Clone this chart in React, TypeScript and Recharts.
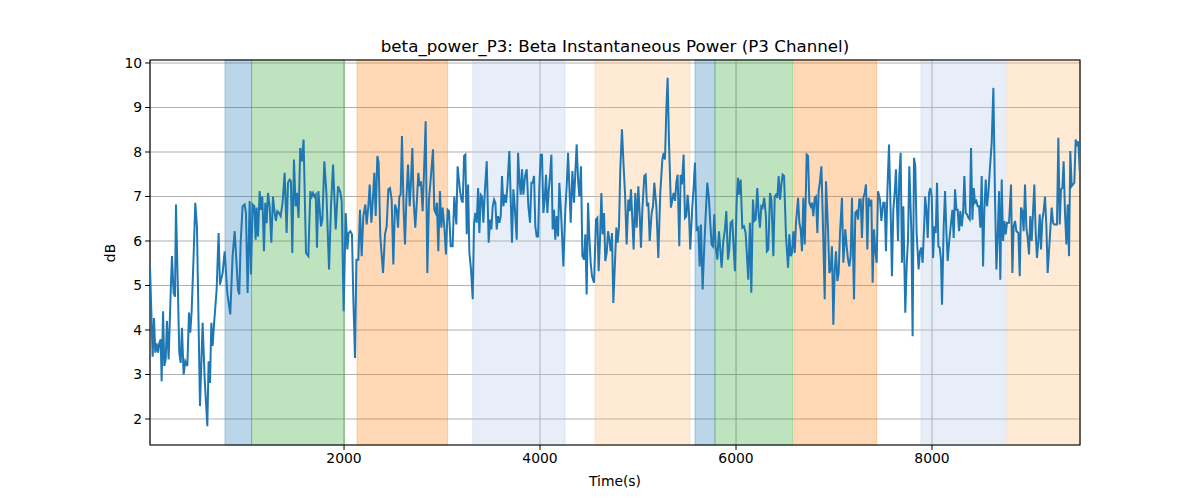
import { LineChart, Line, XAxis, YAxis, CartesianGrid, ReferenceArea } from "recharts";

// time (s) / power (dB), in six chunks
const times1 = [20,47,61,74,88,102,115,129,139,153,166,180,193,210,231,244,261,275,285,319,333,346,363,380,401,418,431,445,465,482,499,530,557,578,605,618,632,646,659,673,700,720,734,761,782,809,839,863,884,897,918,931,945,965,986,999,1016,1037,1050,1067,1084,1098,1108,1122,1139,1152,1166,1183,1196,1210,1224,1241,1258,1275,1288,1305,1319,1336,1353,1373,1394,1414,1428,1445,1458,1472,1489,1506,1519,1536,1553,1570,1587];
const power1 = [5.43,3.4,4.27,3.49,3.7,3.49,3.7,3.79,2.85,4.42,3.19,3.34,4.2,3.34,4.83,5.66,4.83,4.75,6.82,3.49,3.26,4.05,3.0,3.3,3.19,4.39,3.94,4.42,5.66,6.86,6.33,2.29,4.16,2.89,1.84,3.3,2.81,4.16,3.64,4.12,4.91,6.18,5.02,5.28,5.77,4.83,4.35,5.66,6.22,5.73,4.91,4.8,5.96,6.78,6.82,6.63,4.83,6.9,5.25,6.82,6.78,6.03,6.75,6.1,7.12,6.7,7.0,5.77,6.86,6.4,7.08,6.78,5.96,7.0,6.7,6.45,6.67,6.63,6.56,6.86,7.53,6.18,7.31,7.38,7.34,5.73,7.83,6.78,7.08,6.52,8.09,7.79,8.28];

const times2 = [1612,1636,1656,1670,1684,1697,1711,1724,1738,1752,1765,1779,1799,1820,1847,1867,1888,1915,1939,1962,1976,1996,2017,2034,2047,2064,2081,2095,2112,2126,2146,2163,2180,2197,2217,2231,2248,2262,2279,2296,2309,2323,2340,2353,2370,2398,2418,2435,2452,2469,2486,2503,2520,2537,2551,2564,2578,2591,2608,2622,2636,2653,2670,2683,2697,2710,2727,2744,2758,2772,2785,2802,2816,2833,2850,2867,2887,2908,2921,2935,2948,2962,2979,2993,3006,3023,3040,3057,3071,3088,3108,3125,3146,3159];
const power2 = [5.73,5.66,7.12,7.0,7.08,7.0,7.04,5.85,7.12,6.7,6.33,6.48,7.79,7.08,5.36,6.78,7.72,6.26,7.23,7.1,6.9,4.42,6.63,5.81,6.18,6.22,6.15,4.69,3.37,5.58,5.58,6.7,5.66,6.56,6.82,6.37,6.78,7.27,6.41,7.0,7.53,6.56,7.91,7.76,6.1,5.28,6.15,6.33,7.16,7.19,6.93,5.47,6.82,6.7,6.3,7.0,7.04,8.36,6.7,5.92,6.93,7.72,6.78,7.34,8.09,6.93,6.3,6.93,7.53,7.23,7.34,6.67,7.53,8.69,5.28,6.93,7.46,8.06,6.7,6.63,6.86,5.77,7.12,6.3,6.75,6.33,5.7,6.7,6.67,5.88,5.88,7.0,6.37,7.68];

const times3 = [3184,3198,3211,3225,3238,3252,3266,3279,3296,3313,3327,3340,3354,3368,3381,3395,3408,3422,3436,3456,3476,3490,3504,3517,3531,3544,3558,3572,3585,3599,3612,3626,3640,3653,3667,3687,3701,3714,3728,3742,3762,3776,3789,3803,3816,3830,3847,3864,3881,3898,3912,3925,3939,3952,3966,3980,3993,4007,4020,4034,4048,4061,4075,4088,4102,4116,4129,4143,4156,4170,4184,4197,4211,4224,4238,4258,4272,4286,4299,4313,4330,4347,4360,4374,4388,4401,4418,4432,4449,4462,4476,4490,4503,4517,4530,4551,4571,4585,4598,4612,4626,4639,4653,4666,4680,4694,4707,4721,4734,4748];
const power3 = [7.12,6.93,6.86,7.91,7.94,6.15,7.27,5.73,5.36,4.69,6.41,6.63,6.41,7.19,6.18,7.04,7.0,6.41,7.08,7.79,5.96,6.48,6.26,6.78,6.93,6.86,6.26,6.56,6.41,6.56,7.46,6.78,7.04,6.86,7.23,8.02,6.93,5.96,7.16,6.78,6.03,7.98,7.38,7.04,7.61,7.04,7.46,7.61,6.78,6.41,7.31,7.31,7.46,6.33,6.1,6.1,7.23,7.94,7.94,6.63,6.93,7.49,6.63,7.12,7.46,7.94,6.26,6.7,6.03,6.56,6.1,7.31,6.78,6.18,5.43,6.7,7.23,7.98,7.23,6.41,7.57,6.86,7.53,8.17,7.38,7.0,7.68,5.66,5.58,6.15,4.8,6.86,6.1,5.51,5.21,5.06,6.48,6.52,5.32,6.03,7.08,6.15,6.63,5.55,5.73,6.22,6.03,5.77,6.18,4.61];

const times4 = [4779,4792,4806,4819,4836,4853,4867,4884,4901,4915,4928,4942,4955,4972,4986,5003,5017,5030,5044,5064,5078,5091,5105,5119,5139,5153,5166,5187,5207,5227,5248,5261,5275,5289,5302,5316,5336,5350,5363,5377,5391,5404,5421,5435,5448,5465,5479,5493,5506,5520,5533,5554,5567,5581,5598,5615,5629,5642,5659,5676,5690,5707,5724,5737,5751,5765,5778,5792,5809,5826,5853,5870,5887,5901,5918,5931,5945,5962,5975,5989,6006,6020,6030,6047,6064,6081,6098,6125,6142,6156,6173,6186,6200,6217,6230,6244,6258,6271,6288,6305,6315,6329];
const power4 = [6.3,5.96,6.33,7.61,8.51,7.68,7.08,5.92,6.93,6.67,7.16,6.48,5.81,7.08,6.3,7.23,6.6,5.85,6.7,7.46,7.49,6.78,6.86,6.0,6.63,6.78,7.31,6.78,5.62,7.08,7.83,7.98,7.83,8.96,9.67,8.21,6.75,6.93,7.08,6.9,7.31,7.49,5.88,7.49,7.27,7.94,6.52,6.56,7.04,6.63,5.81,6.78,7.19,7.76,6.26,6.3,5.43,6.37,4.91,5.88,6.56,7.31,6.93,6.41,5.92,5.88,6.6,5.88,5.58,6.22,5.4,6.0,6.26,6.67,5.58,5.81,6.41,6.45,5.88,5.32,6.86,7.42,7.04,7.38,6.3,6.33,6.18,5.13,6.41,4.84,6.93,6.45,6.48,7.19,6.63,6.3,6.78,6.75,6.97,6.56,5.77,5.81];

const times5 = [6347,6361,6381,6395,6408,6422,6435,6449,6463,6476,6490,6510,6531,6544,6558,6571,6585,6599,6612,6633,6646,6660,6673,6687,6701,6721,6735,6748,6762,6775,6789,6803,6816,6830,6843,6857,6871,6884,6905,6918,6939,6952,6966,6979,6993,7007,7020,7034,7047,7061,7081,7095,7115,7129,7143,7156,7170,7183,7204,7217,7231,7245,7258,7272,7285,7299,7313,7326,7340,7353,7367,7381,7394,7408,7421,7435,7449,7469,7483,7503,7517,7530,7544,7561,7578,7591,7605,7619,7632,7653,7666,7680,7693,7707,7727,7741,7755,7768,7789,7802,7816,7829,7843,7863,7877,7891,7904,7925];
const power5 = [7.08,6.93,5.66,7.0,7.04,6.97,7.46,6.93,7.27,7.49,7.46,6.1,5.4,6.15,5.66,5.73,6.22,5.73,6.41,6.97,6.41,6.26,5.77,6.97,5.92,7.94,7.91,6.86,6.78,6.86,6.56,6.97,7.0,6.18,7.12,7.34,7.68,6.63,4.69,7.34,6.26,5.28,5.36,5.88,4.12,5.36,5.77,5.1,5.28,6.18,6.97,5.51,6.26,5.88,5.58,5.43,5.66,6.97,4.69,6.63,6.67,6.48,6.93,6.93,6.07,6.97,7.08,7.27,5.81,6.97,6.78,6.93,5.06,6.26,5.77,5.51,7.12,6.93,6.45,6.86,6.86,5.77,7.08,8.17,6.63,5.21,6.7,7.08,7.61,6.0,7.46,7.98,5.51,6.78,4.39,5.43,6.03,7.68,6.22,3.86,7.87,7.68,6.18,5.36,5.77,5.85,5.51,6.63];

const times6 = [7929,7943,7956,7970,7983,7997,8011,8024,8038,8051,8065,8079,8092,8102,8119,8133,8147,8160,8174,8194,8208,8221,8235,8249,8262,8276,8289,8303,8317,8330,8344,8357,8371,8385,8398,8412,8425,8439,8453,8466,8480,8493,8507,8521,8534,8548,8561,8575,8589,8609,8626,8643,8657,8670,8684,8697,8711,8725,8738,8752,8765,8786,8806,8820,8833,8847,8861,8881,8895,8908,8922,8935,8949,8963,8976,8990,9003,9017,9031,9044,9058,9071,9085,9099,9112,9126,9139,9153,9167,9180,9201,9221,9235,9248,9262,9275,9289,9303,9316,9330,9343,9357,9371,9384,9398,9411,9425,9439,9452,9466,9479,9493,9507];
const power6 = [7.0,6.7,6.07,7.08,7.19,7.0,5.62,6.33,6.18,7.31,5.88,5.85,5.55,4.57,6.33,7.12,6.18,5.55,5.96,6.41,6.7,6.07,7.16,6.7,6.7,6.22,6.67,6.33,6.63,7.46,6.63,6.6,6.52,6.48,8.09,6.48,7.19,6.86,6.9,6.78,6.78,6.3,7.46,5.43,6.7,7.38,6.78,7.08,7.57,8.21,9.44,6.93,5.36,6.1,7.12,5.13,7.38,6.0,6.45,6.15,6.41,6.41,7.27,5.28,6.33,6.45,6.22,6.18,5.21,6.75,6.67,6.22,7.27,6.3,6.07,5.7,6.56,6.0,6.67,7.27,6.18,5.62,6.0,6.6,5.81,6.48,6.67,7.0,6.33,5.28,6.03,6.75,6.41,6.37,6.37,6.37,8.32,6.37,7.16,7.19,7.79,6.63,5.92,6.82,5.66,8.02,7.23,7.27,7.31,8.28,8.13,8.24,7.57];

// shaded segments
const spanStarts = [785, 1057, 2132, 3313, 4561, 5581, 5785, 6590, 7887, 8765];
const spanEnds = [1057, 2003, 3057, 4255, 5530, 5785, 6578, 7435, 8752, 9510];
const spanColors = ["#1f77b4", "#2ca02c", "#ff7f0e", "#aec7e8", "#ffbb78", "#1f77b4", "#2ca02c", "#ff7f0e", "#aec7e8", "#ffbb78"];

const xTicks = [2000, 4000, 6000, 8000];
const yTicks = [2, 3, 4, 5, 6, 7, 8, 9, 10];
const X_DOMAIN: [number, number] = [20, 9510];
const Y_DOMAIN: [number, number] = [1.416, 10.067];

const times = [...times1, ...times2, ...times3, ...times4, ...times5, ...times6];
const power = [...power1, ...power2, ...power3, ...power4, ...power5, ...power6];
const data = times.map((t, i) => ({ t, p: power[i] }));

const FONT = "'DejaVu Sans', sans-serif";
const tickStyle = { fill: "#000", fontSize: 13.9, fontFamily: FONT };

export default function App() {
  return (
    <div style={{ position: "relative", width: 1200, height: 500, background: "#fff", fontFamily: FONT }}>
      <style>{"body{margin:0}"}</style>
      <div style={{ position: "absolute", left: 0, width: 1230, top: 36, textAlign: "center", fontSize: 16.7, color: "#000" }}>
        beta_power_P3: Beta Instantaneous Power (P3 Channel)
      </div>
      <div style={{ position: "absolute", left: 110, top: 253, transform: "translate(-50%,-50%) rotate(-90deg)", fontSize: 13.9 }}>
        dB
      </div>
      <div style={{ position: "absolute", left: 615, top: 481, transform: "translate(-50%,-50%)", fontSize: 13.9 }}>
        Time(s)
      </div>
      <LineChart width={1200} height={500} data={data} margin={{ top: 60, right: 120, bottom: 10, left: 90 }}>
        {spanStarts.map((s, i) => (
          <ReferenceArea
            key={i}
            x1={s}
            x2={spanEnds[i]}
            fill={spanColors[i]}
            fillOpacity={0.3}
            stroke={spanColors[i]}
            strokeOpacity={0.3}
          />
        ))}
        <CartesianGrid stroke="#b0b0b0" strokeWidth={1.1} />
        <XAxis
          dataKey="t"
          type="number"
          domain={X_DOMAIN}
          ticks={xTicks}
          allowDataOverflow
          height={45}
          tick={tickStyle}
          tickSize={4.9}
          tickMargin={3}
          axisLine={false}
          tickLine={{ stroke: "#000" }}
        />
        <YAxis
          type="number"
          domain={Y_DOMAIN}
          ticks={yTicks}
          allowDataOverflow
          width={60}
          tick={tickStyle}
          tickSize={4.9}
          tickMargin={3}
          axisLine={false}
          tickLine={{ stroke: "#000" }}
        />
        <Line type="linear" dataKey="p" stroke="#1f77b4" strokeWidth={2} dot={false} isAnimationActive={false} />
        <ReferenceArea x1={X_DOMAIN[0]} x2={X_DOMAIN[1]} y1={Y_DOMAIN[0]} y2={Y_DOMAIN[1]} fill="none" stroke="#000" strokeWidth={1.1} />
      </LineChart>
    </div>
  );
}
